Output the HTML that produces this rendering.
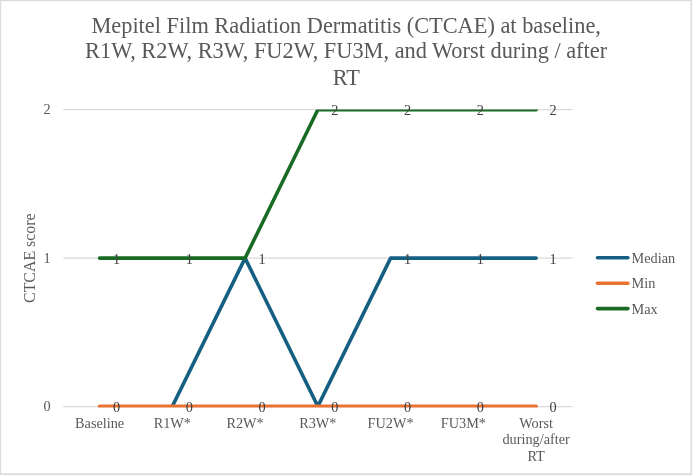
<!DOCTYPE html>
<html><head><meta charset="utf-8">
<style>
html,body{margin:0;padding:0;background:#fff;overflow:hidden;}
svg{display:block;}
text{font-family:"Liberation Serif","Times New Roman",serif;fill:#595959;}
.dl text{fill:#404040;}
</style></head>
<body>
<svg width="692" height="475" viewBox="0 0 692 475">
<defs><clipPath id="plot"><rect x="60" y="109.6" width="520" height="298"/></clipPath><clipPath id="plotb"><rect x="60" y="109.6" width="520" height="296.6"/></clipPath></defs>
<rect x="0" y="0" width="692" height="475" fill="#fff"/>
<rect x="0" y="0" width="692" height="1.2" fill="#dcdcdc"/>
<rect x="0" y="0" width="1.2" height="475" fill="#dcdcdc"/>
<rect x="690.4" y="0" width="1.6" height="475" fill="#dcdcdc"/>
<rect x="0" y="473.4" width="692" height="1.6" fill="#d9d9d9"/>
<g font-size="22.35" text-anchor="middle">
<text x="346.2" y="33.2">Mepitel Film Radiation Dermatitis (CTCAE) at baseline,</text>
<text x="346.1" y="58.3">R1W, R2W, R3W, FU2W, FU3M, and Worst during / after</text>
<text x="346.3" y="84.8">RT</text>
</g>
<g stroke="#d9d9d9" stroke-width="1.25">
<line x1="63.2" x2="572.5" y1="406.5" y2="406.5"/>
<line x1="63.2" x2="572.5" y1="258.15" y2="258.15"/>
<line x1="63.2" x2="572.5" y1="109.7" y2="109.7"/>
</g>
<g font-size="14.28" text-anchor="middle">
<text x="47" y="411.3">0</text>
<text x="47" y="262.8">1</text>
<text x="47" y="113.7">2</text>
</g>
<text font-size="15.87" text-anchor="middle" transform="translate(35.4,258.2) rotate(-90)">CTCAE score</text>
<g fill="none" stroke-width="3.57" stroke-linecap="round" stroke-linejoin="round" clip-path="url(#plot)">
<polyline stroke="#156082" points="172.34,406.40 245.09,258.15 317.85,406.40 390.61,258.15 463.36,258.15 536.12,258.15" clip-path="url(#plotb)"/>
<polyline stroke="#e97132" points="99.58,406.4 172.34,406.4 245.09,406.4 317.85,406.4 390.61,406.4 463.36,406.4 536.12,406.4"/>
<polyline stroke="#196b24" points="99.58,258.15 172.34,258.15 245.09,258.15 317.85,109.70 390.61,109.70 463.36,109.70 536.12,109.70"/>
</g>
<g class="dl" font-size="14.28" text-anchor="middle">
<text x="116.6" y="412.0">0</text>
<text x="189.3" y="412.0">0</text>
<text x="262.1" y="263.8">1</text>
<text x="334.8" y="412.0">0</text>
<text x="407.6" y="263.8">1</text>
<text x="480.4" y="263.8">1</text>
<text x="553.1" y="263.8">1</text>
<text x="262.1" y="412.0">0</text>
<text x="407.6" y="412.0">0</text>
<text x="480.4" y="412.0">0</text>
<text x="553.1" y="412.0">0</text>
<text x="116.6" y="263.8">1</text>
<text x="189.3" y="263.8">1</text>
<text x="334.8" y="115.3">2</text>
<text x="407.6" y="115.3">2</text>
<text x="480.4" y="115.3">2</text>
<text x="553.1" y="115.3">2</text>
</g>
<g font-size="14.28" text-anchor="middle">
<text x="99.6" y="427.6">Baseline</text>
<text x="172.3" y="427.6">R1W*</text>
<text x="245.1" y="427.6">R2W*</text>
<text x="317.8" y="427.6">R3W*</text>
<text x="390.6" y="427.6">FU2W*</text>
<text x="463.4" y="427.6">FU3M*</text>
<text x="536.1" y="427.6">Worst</text>
<text x="536.1" y="444.1">during/after</text>
<text x="536.1" y="460.5">RT</text>
</g>
<g stroke-width="3.57" stroke-linecap="round">
<line x1="597.5" x2="627.9" y1="257.8" y2="257.8" stroke="#156082"/>
<line x1="597.5" x2="627.9" y1="283.2" y2="283.2" stroke="#e97132"/>
<line x1="597.5" x2="627.9" y1="308.6" y2="308.6" stroke="#196b24"/>
</g>
<g font-size="14.28">
<text x="631.6" y="262.9">Median</text>
<text x="631.6" y="288.3">Min</text>
<text x="631.6" y="313.7">Max</text>
</g>
</svg>
</body></html>
